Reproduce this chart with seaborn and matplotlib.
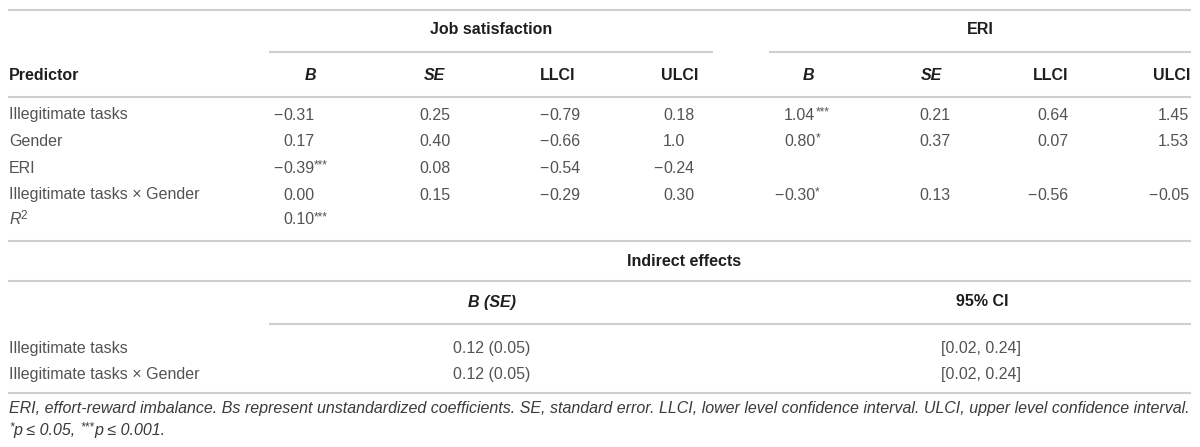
import matplotlib
matplotlib.use("Agg")
import matplotlib.pyplot as plt
import seaborn as sns

# table content
predictors = ["Illegitimate tasks", "Gender", "ERI", "Illegitimate tasks \u00d7 Gender", "R"]
js_b = ["\u22120.31", "0.17", "\u22120.39", "0.00", "0.10"]
js_b_sig = ["", "", "***", "", "***"]
js_se = ["0.25", "0.40", "0.08", "0.15", ""]
js_llci = ["\u22120.79", "\u22120.66", "\u22120.54", "\u22120.29", ""]
js_ulci = ["0.18", "1.0", "\u22120.24", "0.30", ""]
eri_b = ["1.04", "0.80", "", "\u22120.30", ""]
eri_b_sig = ["***", "*", "", "*", ""]
eri_se = ["0.21", "0.37", "", "0.13", ""]
eri_llci = ["0.64", "0.07", "", "\u22120.56", ""]
eri_ulci = ["1.45", "1.53", "", "\u22120.05", ""]

col_heads = ["B", "SE", "LLCI", "ULCI", "B", "SE", "LLCI", "ULCI"]
group_heads = ["Job satisfaction", "ERI"]

ind_rows = ["Illegitimate tasks", "Illegitimate tasks \u00d7 Gender"]
ind_b_se = ["0.12 (0.05)", "0.12 (0.05)"]
ind_ci = ["[0.02, 0.24]", "[0.02, 0.24]"]
ind_heads = ["B (SE)", "95% CI"]

note1 = ("ERI, effort-reward imbalance. Bs represent unstandardized coefficients. SE, standard error. "
         "LLCI, lower level confidence interval. ULCI, upper level confidence interval.")

sns.set_theme(style="white")
plt.rcParams["font.family"] = ["Liberation Sans", "DejaVu Sans"]

BODY = "#535353"
HEAD = "#1e1e1e"
RULE = "#cfcfcf"
FS = 11.5
SUP = 8.5

fig = plt.figure(figsize=(12, 4.47), dpi=100)
ax = fig.add_axes([0, 0, 1, 1])
ax.set_xlim(0, 1200)
ax.set_ylim(447, 0)
ax.axis("off")
renderer = fig.canvas.get_renderer()


def width(t):
    bb = t.get_window_extent(renderer=renderer)
    return bb.width


def run(x, y, parts):
    # parts: (text, kwargs) placed one after another, with optional raise 'dy'
    cx = x
    for s, kw in parts:
        kw = dict(kw)
        dy = kw.pop("dy", 0)
        t = ax.text(cx, y - dy, s, ha="left", va="center", **kw)
        cx += width(t)
    return cx


def rule(y, x0=8, x1=1191):
    ax.plot([x0, x1], [y, y], color=RULE, lw=1.5, solid_capstyle="butt")


def num(x, y, s, sig=""):
    body = dict(fontsize=FS, color=BODY)
    if s.startswith("\u2212"):
        ax.text(x, y, "\u2212", ha="right", va="center", **body)
        s = s[1:]
    if not s:
        return
    parts = [(s, body)]
    if sig:
        parts.append((sig, dict(fontsize=SUP, color=BODY, dy=3)))
    run(x, y, parts)


# rules
rule(10)
rule(52, 269, 713)
rule(52, 769, 1191)
rule(97)
rule(241)
rule(281)
rule(324, 269, 1191)
rule(393)

# group headers
hb = dict(fontsize=FS, color=HEAD, fontweight="bold")
ax.text(491, 29, group_heads[0], ha="center", va="center", **hb)
ax.text(980, 29, group_heads[1], ha="center", va="center", **hb)

# column headers
ax.text(9, 75, "Predictor", ha="left", va="center", **hb)
head_x = [310, 434, 558, 680, 808, 931, 1051, 1172]
for hx, h in zip(head_x, col_heads):
    style = "italic" if h in ("B", "SE") else "normal"
    ax.text(hx, 75, h, ha="center", va="center", fontstyle=style, **hb)

# body rows
row_y = [115, 141.7, 168.3, 195, 220]
val_x = [283, 419, 549, 663, 784, 919, 1037, 1158]
cols = [js_b, js_se, js_llci, js_ulci, eri_b, eri_se, eri_llci, eri_ulci]
sigs = {0: js_b_sig, 4: eri_b_sig}
for i, y in enumerate(row_y):
    name = predictors[i]
    if name == "R":
        run(9, y, [("R", dict(fontsize=FS, color=BODY, fontstyle="italic")),
                   ("2", dict(fontsize=SUP, color=BODY, dy=4))])
    else:
        ax.text(9, y, name, ha="left", va="center", fontsize=FS, color=BODY)
    for c, (cx, col) in enumerate(zip(val_x, cols)):
        sig = sigs[c][i] if c in sigs else ""
        num(cx, y, col[i], sig)

# indirect effects block
ax.text(684, 261, "Indirect effects", ha="center", va="center", **hb)
ax.text(492, 302, ind_heads[0], ha="center", va="center", fontstyle="italic", **hb)
ax.text(982, 302, ind_heads[1], ha="center", va="center", **hb)
for y, name, bse, ci in zip([348, 374], ind_rows, ind_b_se, ind_ci):
    ax.text(9, y, name, ha="left", va="center", fontsize=FS, color=BODY)
    ax.text(492, y, bse, ha="center", va="center", fontsize=FS, color=BODY)
    ax.text(981, y, ci, ha="center", va="center", fontsize=FS, color=BODY)

# footnote
fn = dict(fontsize=FS, color="#3a3a3a", fontstyle="italic")
ax.text(9, 409, note1, ha="left", va="center", **fn)
run(9, 430, [("*", dict(fn, fontsize=SUP, dy=3)), ("p \u2264 0.05, ", fn),
             ("***", dict(fn, fontsize=SUP, dy=3)), ("p \u2264 0.001.", fn)])

fig.savefig("out.png", dpi=100)
